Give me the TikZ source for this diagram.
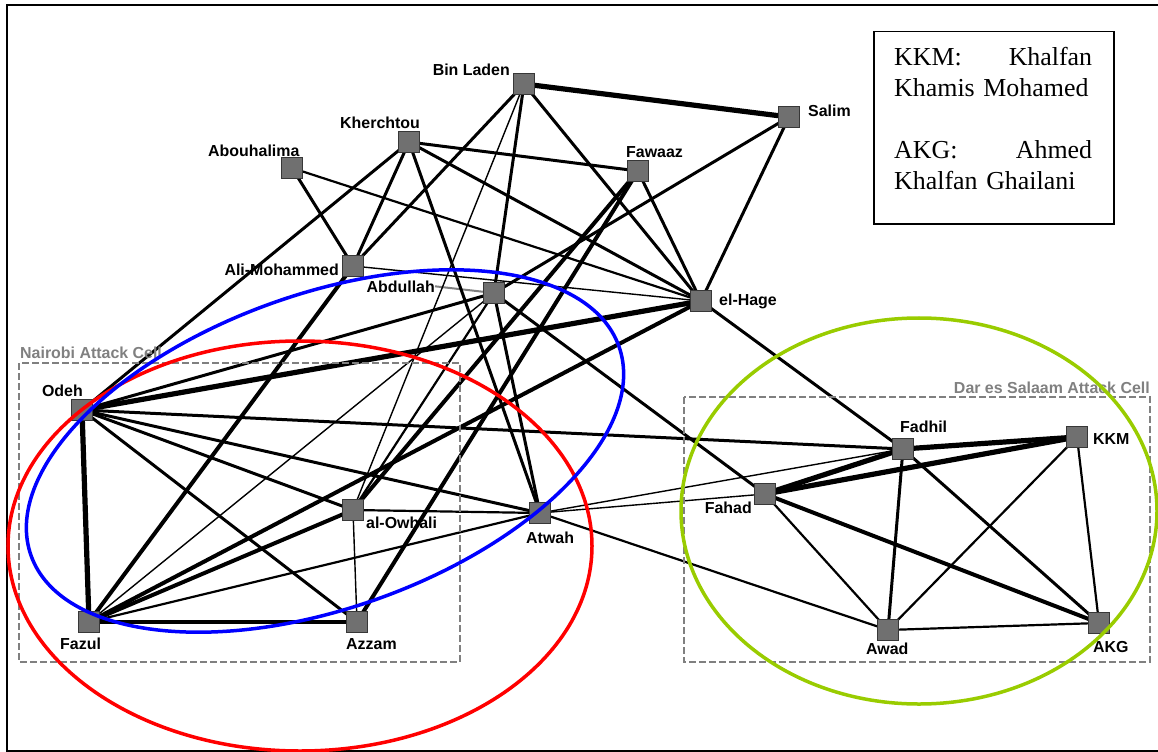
\documentclass[tikz,border=0pt]{standalone}
\usepackage{fontspec}
\setmainfont{Liberation Serif}
\newfontfamily\labfont{Liberation Sans}
\pgfdeclarelayer{labels}
\pgfdeclarelayer{edges}
\pgfdeclarelayer{front}
\pgfsetlayers{labels,edges,main,front}
\definecolor{sqfill}{RGB}{112,112,112}
\definecolor{sqdraw}{RGB}{55,55,55}
\definecolor{cellgray}{RGB}{128,128,128}
\definecolor{ringgreen}{RGB}{153,204,0}
\begin{document}
\begin{tikzpicture}[x=1bp,y=-1bp,
  sq/.style={rectangle,minimum size=21bp,inner sep=0pt,fill=sqfill,draw=sqdraw,line width=1bp},
  lab/.style={inner sep=0pt,font=\labfont\bfseries\fontsize{16}{16}\selectfont},
  celllab/.style={inner sep=0pt,text=cellgray,font=\labfont\bfseries\fontsize{16}{16}\selectfont},
  cellbox/.style={draw=cellgray,line width=2bp,dash pattern=on 7bp off 3bp},
  ea/.style={line width=1.4bp},
  eb/.style={line width=2.2bp},
  ec/.style={line width=3bp},
  ed/.style={line width=4bp},
  ee/.style={line width=5.2bp},
  ring/.style={line width=3.5bp}
]
\useasboundingbox (0,0) rectangle (1158,752);
% frame
\draw[line width=2bp] (1158,5) -- (7,5) -- (7,751) -- (1158,751);

% cells
\draw[cellbox] (19,363) rectangle (460,662);
\node[celllab,anchor=base west] (nairobi) at (20,358) {Nairobi Attack Cell};
\draw[cellbox] (684,397) rectangle (1150,662);
\node[celllab,anchor=base east] (dar) at (1150,393) {Dar es Salaam Attack Cell};

% legend
\node[draw,line width=1.5bp,minimum width=240bp,minimum height=192bp,anchor=north west,inner sep=0pt] (legend) at (873,31) {};
\node[anchor=north west,inner sep=0pt,text width=198bp,align=left,font=\fontsize{26}{31}\selectfont] (legtext) at (894,47)
 {KKM:\hfill Khalfan\\Khamis Mohamed\\[31bp]AKG:\hfill Ahmed\\Khalfan Ghailani};

% actor squares
\node[sq] (BL) at (524,84) {};
\node[sq] (SA) at (789,117) {};
\node[sq] (KH) at (409,142) {};
\node[sq] (AB) at (292,168) {};
\node[sq] (FW) at (638,171) {};
\node[sq] (AM) at (353,266) {};
\node[sq] (AD) at (494,293) {};
\node[sq] (EH) at (701,301) {};
\node[sq] (OD) at (82,410) {};
\node[sq] (OW) at (353,510) {};
\node[sq] (AT) at (540,513) {};
\node[sq] (FZ) at (89,622) {};
\node[sq] (AZ) at (357,622) {};
\node[sq] (FD) at (903,449) {};
\node[sq] (KK) at (1077,437) {};
\node[sq] (FH) at (765,494) {};
\node[sq] (AW) at (888,630) {};
\node[sq] (AK) at (1099,623) {};

% labels
\begin{pgfonlayer}{labels}
\node[lab,anchor=base east] (BLl) at (510,76) {Bin Laden};
\node[lab,anchor=base west] (SAl) at (808,116) {Salim};
\node[lab,anchor=base west] (KHl) at (340,128) {Kherchtou};
\node[lab,anchor=base west] (ABl) at (208,156) {Abouhalima};
\node[lab,anchor=base west] (FWl) at (626,157) {Fawaaz};
\node[lab,anchor=base east] (AMl) at (339,275) {Ali-Mohammed};
\node[lab,anchor=base east] (ADl) at (435,292) {Abdullah};
\node[lab,anchor=base west] (EHl) at (719,305) {el-Hage};
\node[lab,anchor=base east] (ODl) at (83,396) {Odeh};
\node[lab,anchor=base west] (OWl) at (366,528) {al-Owhali};
\node[lab,anchor=base west] (ATl) at (526,543) {Atwah};
\node[lab,anchor=base west] (FZl) at (60,649) {Fazul};
\node[lab,anchor=base west] (AZl) at (346,649) {Azzam};
\node[lab,anchor=base west] (FDl) at (900,432) {Fadhil};
\node[lab,anchor=base west] (KKl) at (1093,444) {KKM};
\node[lab,anchor=base east] (FHl) at (752,513) {Fahad};
\node[lab,anchor=base west] (AWl) at (866,654) {Awad};
\node[lab,anchor=base west] (AKl) at (1093,652) {AKG};
\end{pgfonlayer}

% edges
\begin{pgfonlayer}{edges}
\draw[line width=2bp,cellgray] (ADl.east) -- (AD.center);
\draw[ee] (BL.center) -- (SA.center);
\draw[ec] (BL.center) -- (AM.center);
\draw[ea] (BL.center) -- (OW.center);
\draw[ec] (BL.center) -- (AD.center);
\draw[ec] (BL.center) -- (EH.center);
\draw[ec] (KH.center) -- (FW.center);
\draw[ec] (KH.center) -- (EH.center);
\draw[ec] (KH.center) -- (AM.center);
\draw[ec] (KH.center) -- (OD.center);
\draw[ec] (KH.center) -- (AT.center);
\draw[ec] (AB.center) -- (AM.center);
\draw[eb] (AB.center) -- (EH.center);
\draw[ea] (AM.center) -- (EH.center);
\draw[ed] (AM.center) -- (FZ.center);
\draw[ec] (FW.center) -- (EH.center);
\draw[ed] (FW.center) -- (AZ.center);
\draw[ed] (FW.center) -- (OW.center);
\draw[ec] (SA.center) -- (EH.center);
\draw[ec] (SA.center) -- (AD.center);
\draw[ec] (AD.center) -- (OD.center);
\draw[ec] (AD.center) -- (AT.center);
\draw[ec] (AD.center) -- (FH.center);
\draw[ea] (AD.center) -- (FZ.center);
\draw[eb] (AD.center) -- (OW.center);
\draw[ee] (EH.center) -- (OD.center);
\draw[ed] (EH.center) -- (FZ.center);
\draw[ec] (EH.center) -- (FD.center);
\draw[ee] (OD.center) -- (FZ.center);
\draw[ec] (OD.center) -- (OW.center);
\draw[ec] (OD.center) -- (AT.center);
\draw[ec] (OD.center) -- (AZ.center);
\draw[ec] (OD.center) -- (FD.center);
\draw[ed] (FZ.center) -- (AZ.center);
\draw[ed] (FZ.center) -- (OW.center);
\draw[eb] (FZ.center) -- (AT.center);
\draw[ea] (OW.center) -- (AZ.center);
\draw[eb] (OW.center) -- (AT.center);
\draw[ea] (AT.center) -- (FD.center);
\draw[ea] (AT.center) -- (FH.center);
\draw[eb] (AT.center) -- (AW.center);
\draw[ee] (FD.center) -- (KK.center);
\draw[ee] (FD.center) -- (FH.center);
\draw[ee] (FH.center) -- (KK.center);
\draw[ec] (FD.center) -- (AW.center);
\draw[ec] (FD.center) -- (AK.center);
\draw[ed] (FH.center) -- (AK.center);
\draw[eb] (FH.center) -- (AW.center);
\draw[eb] (KK.center) -- (AW.center);
\draw[eb] (KK.center) -- (AK.center);
\draw[eb] (AW.center) -- (AK.center);
\end{pgfonlayer}

% rings
\begin{pgfonlayer}{front}
\draw[ring,red] (300,546) ellipse [x radius=292bp, y radius=205bp];
\draw[ring,blue,rotate around={19.6:(325,451)}] (325,451) ellipse [x radius=312bp, y radius=157bp];
\draw[ring,ringgreen] (919,511) ellipse [x radius=238bp, y radius=193bp];
\end{pgfonlayer}
\end{tikzpicture}
\end{document}
